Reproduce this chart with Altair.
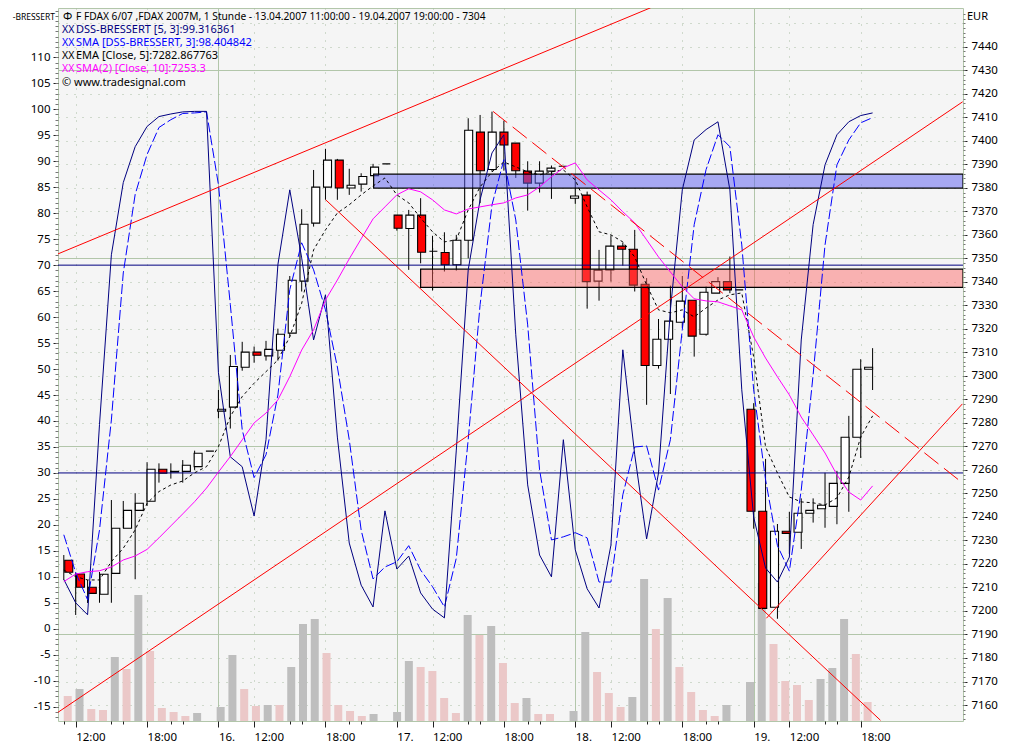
import json
import altair as alt
import pandas as pd

opens = [7221.6,7215.7,7210.1,7207.1,7216,7235.2,7242.8,7246.7,7260.3,7259.1,7259.4,7261.4,7268,7285,7286.7,7303.7,7310.1,7308.5,7310.9,7318.2,7340.3,7365,7380.3,7391.8,7379.9,7381.6,7385.2,7390.2,7368.4,7362.7,7368.4,7353,7352.5,7347.3,7357.7,7403.7,7387.8,7403.7,7399,7387.1,7382,7387.1,7389.2,7375.6,7376.9,7340.3,7345.1,7355.2,7353.9,7339,7304.4,7315.6,7322.8,7332.2,7317.7,7335.2,7340.1,7336.6,7285.8,7242.4,7201.6,7233.9,7233.5,7241.6,7243.5,7244.5,7254.3,7273.9,7302.8]
highs = [7223.8,7216.3,7213.2,7216.6,7247.2,7246.8,7250.1,7263.3,7262.8,7262.8,7264.2,7268.2,7268,7294,7308.9,7314.5,7312.5,7314.9,7320.1,7342.5,7370.9,7387.6,7396.6,7392.3,7388.1,7386.2,7390.2,7390.2,7368.4,7370.6,7375.6,7359.6,7361.1,7360,7409.6,7411,7412.4,7408.6,7399,7391.3,7391.3,7389.5,7389.2,7384.8,7378.4,7353.6,7359.7,7356.7,7362.1,7341.6,7324.2,7338.4,7342.5,7332.2,7338,7342,7350.8,7336.6,7288.4,7264.7,7237,7242.2,7247.9,7247.9,7258.8,7259.6,7283,7307.1,7311.8]
lows = [7213.2,7198.3,7203.4,7203.5,7203.5,7235.2,7213.5,7244.7,7254.6,7256.3,7254.6,7260,7268,7282,7277.6,7302.2,7305.6,7306.5,7306.5,7316.7,7335.9,7363.5,7374.9,7374.9,7377,7378.4,7385.2,7390.2,7361.8,7345.1,7347.9,7336.3,7344.4,7344.8,7350,7373.5,7386.9,7387.3,7384.2,7370.3,7378,7375.3,7389.2,7373.2,7328.6,7332,7340.1,7346.9,7335.9,7287.7,7303.1,7292.3,7320.4,7308.2,7317.1,7335.2,7335.2,7336.6,7235,7201,7196.7,7224.3,7226.4,7237.6,7235.4,7236.9,7242.2,7265.1,7294]
closes = [7216.5,7210.1,7207.5,7215.6,7235.2,7242.8,7245.8,7260.3,7258.6,7259.4,7262,7267.1,7268,7285.8,7304,7310.1,7308.8,7311.3,7317.7,7340.7,7364.5,7380.3,7391.8,7379.9,7381.1,7384.8,7388.8,7390.2,7362.8,7368.4,7352.6,7353,7347.3,7357.7,7404.5,7387.3,7403.7,7398.2,7387.3,7382,7387.1,7388.4,7389.2,7376.5,7340.1,7345,7355.2,7353.9,7338.6,7304.4,7315.6,7323.3,7331.8,7316.9,7335.6,7340.1,7336.6,7336.6,7242.4,7201.1,7233.9,7233,7241.6,7242.8,7245,7254.3,7273.9,7302.8,7303.7]
dss = [9.5,5.0,2.7,39.3,72,85.9,92.8,96.7,98.6,99.1,99.5,99.6,99.6,49.3,33.1,31.2,21.7,36.4,70.1,84.5,71.4,55.6,64.3,36.9,16.5,8.4,4.2,22.7,11.5,14,6.9,3.8,2.1,34.4,69.1,82.6,91.6,95.1,56.6,27.7,14.2,10,36.4,15.2,7.7,4,16.1,53.7,33.5,17.3,30,61.4,84.5,94.1,96.1,97.6,84.5,46,21.5,11.7,9,13.8,55.6,77.8,89.3,95.1,97.6,98.8,99.3]
dss_sma = [18.1,10.8,5.6,19,40.2,68.5,83.6,91.3,96.5,98,99.2,99.3,99.5,85.5,62.4,38.3,29.1,33.5,45,65.3,74.3,69.1,61.4,50.4,36.4,19,9.6,11.9,12.9,16,11.3,8.1,4.2,13.6,36.4,62.4,81.6,90.3,78.7,58.5,30.6,17.1,17.7,18.5,17.5,9,9,25.8,35,35.2,26.7,36.4,57.6,77.8,88.4,95.1,92.8,73.9,46,28.7,16,11.1,26.7,48.9,73.9,89.3,94.1,97.4,98.4]
ema = [7217.4,7214.6,7213.2,7213.2,7221,7226.7,7234.5,7245.8,7250.8,7253.6,7255.3,7258.8,7261.4,7269.9,7282.7,7291.2,7296.9,7301.8,7306.8,7316.7,7330.9,7353.6,7362.1,7369.3,7372.8,7377,7380.8,7384.2,7377,7373.6,7367.2,7361.3,7357,7357.9,7370.6,7380.4,7386.8,7391,7388.9,7386.8,7385.5,7386.8,7387.6,7383.4,7371.9,7361.3,7360,7357,7350.6,7338.7,7328.1,7326.8,7328.1,7325.1,7328.9,7332.3,7334.5,7335.3,7308.1,7269.8,7258.7,7248.5,7246.4,7246,7245.1,7248.1,7257,7274,7283]
sma10 = [7212.5,7215.7,7216.7,7217.1,7218.7,7221.7,7223.4,7226.2,7231.1,7236.2,7241.3,7246.5,7252.3,7259.1,7265.7,7272.8,7280,7284.2,7289.8,7299.7,7311,7319.6,7332.3,7340.8,7349.8,7358.3,7366.8,7371.9,7377,7379.6,7378.3,7374.9,7370.6,7368.9,7371,7371.9,7372.8,7373.6,7375.7,7377,7380.4,7384.7,7388.5,7390.6,7383.4,7379.1,7374.9,7369.8,7365.1,7357.9,7350.6,7344.2,7337.9,7332.8,7331.9,7331.5,7329.8,7328.1,7316.6,7307.6,7299.6,7291.9,7282.5,7274.9,7267.2,7257.9,7250.6,7247.2,7253.2]
volume = [25,32,12,11,64,52,126,70,13,9,5,8,0,14,66,32,15,16,16,54,97,102,68,16,10,5,7,0,9,60,54,50,23,8,106,86,95,58,18,23,7,7,0,10,89,49,28,14,24,142,92,123,54,29,11,5,16,0,39,138,77,40,36,21,42,53,102,67,19]
grey_volume_bars = [1,4,6,11,13,14,17,19,20,21,26,28,29,34,36,39,43,44,48,49,51,56,58,59,64,65,66]

major_ticks = [1,7,13,16,22,28,31,37,43,46,52,58,61,67]
major_labels = ["12:00","18:00","16.","12:00","18:00","17.","12:00","18:00","18.","12:00","18:00","19.","12:00","18:00"]
minor_ticks = [0,4,5,9,10,19,20,24,25,34,35,39,40,49,50,54,55,64,65]
day_lines = [13,28,43,58]
hour_lines = [1,7,16,22,31,37,46,52,61,67]

# trend lines: (bar index, price) end points
trend_solid = [
    [(-0.49,7351.9),(49.34,7456.6)],
    [(-0.49,7156.9),(75.57,7416.6)],
    [(22.02,7374.9),(68.66,7153.5)],
    [(59.07,7196.9),(75.55,7288.1)],
]
trend_dashed = [(36.09,7412.5),(75.55,7254.5)]
blue_zone = (26.05, 7379.9, 7385.8)
red_zone = (30.0, 7337.7, 7345.4)
hlines_dss = [70,30]

XDOM = [-0.488,75.6]
PDOM = [7153.2,7456.5]
DDOM = [-17.75,119.5]
GREEN = "#b2c6aa"
DOT = "#a9bda2"
FONT = "Noto Sans"

n = len(opens)
df = pd.DataFrame(dict(i=range(n),o=opens,h=highs,l=lows,c=closes,dss=dss,dss_sma=dss_sma,ema=ema,sma10=sma10,vol=volume))
df["top"] = df[["o","c"]].max(axis=1)
df["bot"] = df[["o","c"]].min(axis=1)
df["body"] = ["#ff0000" if c < o else "#ffffff" for o,c in zip(opens,closes)]
df["volc"] = ["#bebebe" if i in grey_volume_bars else "#ebc8c8" for i in range(n)]

xs = alt.Scale(domain=XDOM,nice=False,zero=False)
ps = alt.Scale(domain=PDOM,nice=False,zero=False)
ds = alt.Scale(domain=DDOM,nice=False,zero=False)
def X(f="i",axis=None): return alt.X(f"{f}:Q",scale=xs,axis=axis,title=None)
def P(f,axis=None): return alt.Y(f"{f}:Q",scale=ps,axis=axis,title=None)
def D(f,axis=None): return alt.Y(f"{f}:Q",scale=ds,axis=axis,title=None)

base = alt.Chart(df)
dummy = pd.DataFrame({"i":[0.0],"v":[0.0]})
layers = []

def axis_layer(xaxis=None,yf=None,yaxis=None):
    d = pd.DataFrame({"i":[0.0],"p":[PDOM[0]],"d":[DDOM[0]]})
    enc = dict(x=X("i",xaxis))
    enc["y"] = yf("p" if yf is P else "d",yaxis)
    return alt.Chart(d).mark_point(opacity=0).encode(**enc)

def gx(values,dash=None):
    a = dict(values=values,grid=True,gridColor=GREEN if dash is None else DOT,gridOpacity=1,gridWidth=1,ticks=False,labels=False,domain=False,orient="bottom")
    if dash: a["gridDash"]=dash
    return alt.Axis(**a)
def gy(values,orient,dash=None):
    a = dict(values=values,grid=True,gridColor=GREEN if dash is None else DOT,gridOpacity=1,gridWidth=1,ticks=False,labels=False,domain=False,orient=orient)
    if dash: a["gridDash"]=dash
    return alt.Axis(**a)

major_p = [7430,7350,7270,7190]
dot_p = [p for p in range(7160,7460,10) if p not in major_p]

layers.append(axis_layer(xaxis=gx(hour_lines,[1,7]),yf=P,yaxis=gy(dot_p,"right",[1,7])))
layers.append(axis_layer(xaxis=gx(day_lines),yf=P,yaxis=gy(major_p,"right")))

lab = json.dumps(major_labels)
val = json.dumps(major_ticks)
LF = 11.5
bottom_major = alt.Axis(values=major_ticks,orient="bottom",grid=False,domain=False,tickColor="#222",tickSize=6,tickWidth=1,
    labelExpr=f"{lab}[indexof({val},datum.value)]",labelAlign="left",labelBaseline="top",labelPadding=4,labelFont=FONT,labelFontSize=LF,labelColor="#000",labelFlush=False,labelOverlap=False)
bottom_minor = alt.Axis(values=minor_ticks,orient="bottom",grid=False,domain=False,tickColor="#222",tickSize=3,tickWidth=1,labels=False)
left_major = alt.Axis(values=list(range(-15,115,5)),orient="left",grid=False,domain=False,tickColor="#222",tickSize=5,tickWidth=1,
    labelExpr="''+datum.value",labelPadding=3,labelFont=FONT,labelFontSize=LF,labelColor="#000",labelOverlap=False,labelFlush=False)
left_minor = alt.Axis(values=list(range(-17,120,1)),orient="left",grid=False,domain=False,tickColor="#777",tickSize=3,tickWidth=1,labels=False)
right_major = alt.Axis(values=list(range(7160,7450,10)),orient="right",grid=False,domain=False,tickColor="#222",tickSize=4,tickWidth=1,
    labelPadding=4,labelFont=FONT,labelFontSize=LF,labelColor="#000",labelOverlap=False,labelFlush=False,format="d")
right_minor = alt.Axis(values=list(range(7154,7456,2)),orient="right",grid=False,domain=False,tickColor="#777",tickSize=2,tickWidth=1,labels=False)

layers.append(axis_layer(xaxis=bottom_major,yf=D,yaxis=left_major))
layers.append(axis_layer(xaxis=bottom_minor,yf=D,yaxis=left_minor))
layers.append(axis_layer(yf=P,yaxis=right_major))
layers.append(axis_layer(yf=P,yaxis=right_minor))

# volume
layers.append(base.transform_filter("datum.vol>0").mark_bar(orient="vertical",size=8,xOffset=-1,clip=True).encode(
    x=X(),y=alt.Y("vol:Q",scale=alt.Scale(domain=[0,713],nice=False),axis=None,title=None),
    color=alt.Color("volc:N",scale=None,legend=None)))

# candles
layers.append(base.mark_rule(color="#000",strokeWidth=1,clip=True).encode(x=X(),y=P("l"),y2="h:Q"))
layers.append(base.mark_bar(orient="vertical",size=8,stroke="#000",strokeWidth=1.1,clip=True).encode(
    x=X(),y=P("top"),y2="bot:Q",color=alt.Color("body:N",scale=None,legend=None)))

# zones (translucent, so the candles show through)
for (start,lo,hi),fill,op in ((blue_zone,"#5f62ef",0.52),(red_zone,"#ff5f5f",0.45)):
    z = pd.DataFrame({"a":[start],"b":[XDOM[1]],"lo":[lo],"hi":[hi]})
    layers.append(alt.Chart(z).mark_rect(fill=fill,fillOpacity=op,stroke="#000",strokeOpacity=1,strokeWidth=1.2,clip=True).encode(
        x=X("a"),x2="b:Q",y=P("lo"),y2="hi:Q"))

# horizontal DSS levels
for v in hlines_dss:
    layers.append(alt.Chart(pd.DataFrame({"v":[v]})).mark_rule(color="#000080",strokeWidth=1).encode(y=D("v"),x=alt.value(0),x2=alt.value(905)))

# indicators
layers.append(base.mark_line(color="#0000ff",strokeWidth=1,strokeDash=[10,3],clip=True).encode(x=X(),y=D("dss_sma")))
layers.append(base.mark_line(color="#000080",strokeWidth=1,clip=True).encode(x=X(),y=D("dss")))
layers.append(base.mark_line(color="#000",strokeWidth=1,strokeDash=[3,3],clip=True).encode(x=X(),y=P("ema")))
layers.append(base.mark_line(color="#ff00ff",strokeWidth=1,clip=True).encode(x=X(),y=P("sma10")))

# trend lines
for seg in trend_solid:
    t = pd.DataFrame(seg,columns=["i","p"])
    layers.append(alt.Chart(t).mark_line(color="#ff0000",strokeWidth=1,clip=True).encode(x=X(),y=P("p")))
t = pd.DataFrame(trend_dashed,columns=["i","p"])
layers.append(alt.Chart(t).mark_line(color="#ff0000",strokeWidth=1,strokeDash=[18,7],clip=True).encode(x=X(),y=P("p")))

# texts
texts = [
    ("F FDAX 6/07 ,FDAX 2007M, 1 Stunde - 13.04.2007 11:00:00 - 19.04.2007 19:00:00 - 7304",18,9,"#000","left",10.2),
    ("DSS-BRESSERT [5, 3]:99.316361",18,22,"#000080","left",11),
    ("SMA [DSS-BRESSERT, 3]:98.404842",18,35,"#0000ff","left",11),
    ("EMA [Close, 5]:7282.867763",18,48,"#000","left",11),
    ("SMA(2) [Close, 10]:7253.3",18,61,"#ff00ff","left",11),
    ("\u00a9 www.tradesignal.com",4,75,"#000","left",11),
    ("\u03a6",5,9,"#000","left",11),
    ("XX",4,22,"#000080","left",10.5),
    ("XX",4,35,"#0000ff","left",10.5),
    ("XX",4,48,"#000","left",10.5),
    ("XX",4,61,"#ff00ff","left",10.5),
    ("-BRESSERT",-3,9,"#000","right",8.5),
    ("EUR",909,9,"#000","left",11),
]
for s,xp,yp,col,al,fs in texts:
    layers.append(alt.Chart(dummy).mark_text(text=s,align=al,baseline="middle",font=FONT,fontSize=fs,color=col).encode(
        x=alt.value(xp),y=alt.value(yp)))

chart = alt.layer(*layers).resolve_scale(x="independent",y="independent").properties(
    width=905,height=713,autosize=alt.AutoSizeParams(type="none"),
    padding={"left":50,"top":0,"right":50,"bottom":30},background="#ffffff"
).configure_view(fill="#f5f5f5",stroke=GREEN,strokeWidth=1)

chart.save("out.html", embed_options={"renderer": "svg", "actions": False})
